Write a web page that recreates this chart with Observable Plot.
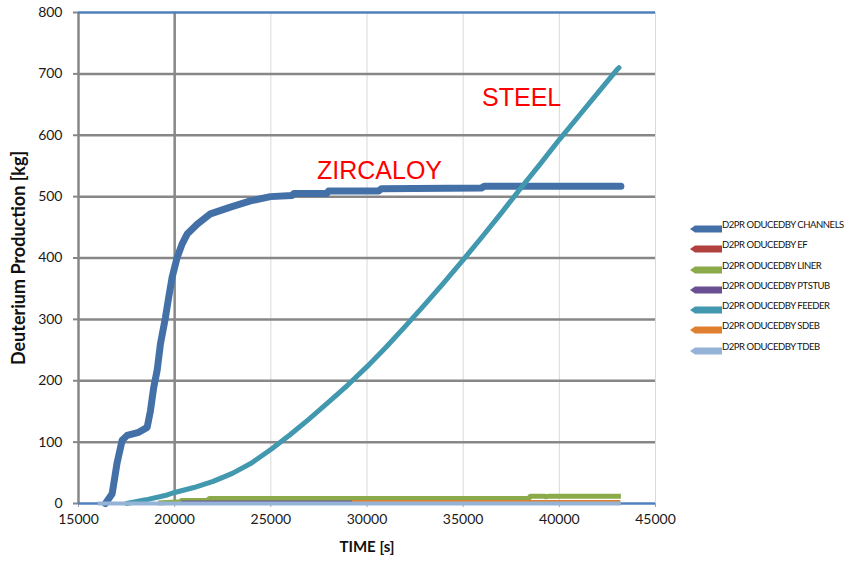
<!DOCTYPE html>
<html>
<head>
<meta charset="utf-8">
<script src="https://cdn.jsdelivr.net/npm/d3@7"></script>
<script src="https://cdn.jsdelivr.net/npm/@observablehq/plot@0.6"></script>
<style>
  html, body { margin: 0; padding: 0; background: #fff; }
  #wrap { position: relative; width: 850px; height: 563px; overflow: hidden; }
  #legend { position: absolute; left: 690px; top: 220px; font-family: Lato, "Liberation Sans", sans-serif; font-size: 9.5px; color: #111; }
  .li { position: absolute; left: 0; height: 14px; white-space: nowrap; }
  .li svg { position: absolute; left: 0; top: 4px; }
  .li span { position: absolute; left: 32px; top: -2px; letter-spacing: -0.45px; }
</style>
</head>
<body>
<div id="wrap"><div id="legend"></div></div>
<script>
// ---- data ----
const channelsT = [16400,16750,17000,17270,17530,18130,18570,18740,18910,19090,19260,19520,19690,19870,20130,20390,20650,21170,21860,22900,23940,24980,26100,26200,27900,28000,30600,30750,35950,36100,43200];
const channelsV = [0,16,65,103,111,116,124,151,189,217,260,303,336,369,401,423,439,455,472,483,493,500,502,505,505,509,509,513,514,517,517];

const efT = [17500,43200];
const efV = [0,0];

const linerT = [19150,20300,20350,21700,21800,38400,38500,39200,39300,39500,43200];
const linerV = [1,3,5,5,8,8,12,12,11,12,12];

const ptstubT = [20340,29220];
const ptstubV = [1.5,1.5];

const feederT = [17500,18500,19500,20000,21000,22000,23000,24000,25000,26000,27000,28000,29000,30000,31000,32000,33000,34000,35000,36000,37000,38000,39000,40000,41000,42000,43000,43100];
const feederV = [0,6,13,18,26,36,49,66,88,112,138,165,193,223,255,289,324,360,397,435,474,514,553,593,631,669,707,710];

const sdebT = [29220,43170];
const sdebV = [2.5,2.5];

const tdebT = [16000,43200];
const tdebV = [0,0];

const xTicks = [15000,20000,25000,30000,35000,40000,45000];
const yTicks = [0,100,200,300,400,500,600,700,800];

const legendLabels = ["D2PR ODUCEDBY CHANNELS","D2PR ODUCEDBY EF","D2PR ODUCEDBY LINER","D2PR ODUCEDBY PTSTUB","D2PR ODUCEDBY FEEDER","D2PR ODUCEDBY SDEB","D2PR ODUCEDBY TDEB"];
const seriesColors = ["#4470A8","#B0413E","#8BAA4A","#6A5092","#4198AF","#E07F2F","#95B3D7"];

const annoText = ["ZIRCALOY","STEEL"];
const annoT = [27400,35980];
const annoV = [542,661];

const xTitle = "TIME [s]";
const yTitle = "Deuterium Production [kg]";

// ---- build ----
const rows = (T, V) => T.map((t, i) => ({t, v: V[i]}));
const series = [
  rows(channelsT, channelsV), rows(efT, efV), rows(linerT, linerV), rows(ptstubT, ptstubV),
  rows(feederT, feederV), rows(sdebT, sdebV), rows(tdebT, tdebV)
];
const widths = [7, 3, 5, 4, 5, 4, 4];
const annos = annoText.map((s, i) => ({s, t: annoT[i], v: annoV[i]}));

const lineMarks = series.map((d, i) => Plot.line(d, {
  x: "t", y: "v", stroke: seriesColors[i], strokeWidth: widths[i],
  strokeLinejoin: "round", strokeLinecap: i === 0 || i === 4 ? "round" : "butt"
}));

const chart = Plot.plot({
  width: 850, height: 563,
  marginLeft: 78, marginRight: 195, marginTop: 12, marginBottom: 60,
  style: {fontFamily: "Lato, 'Liberation Sans', sans-serif", fontSize: "14px", color: "#1a1a1a", background: "transparent"},
  x: {domain: [15000, 45000], label: null},
  y: {domain: [0, 800], label: null},
  marks: [
    Plot.ruleX(xTicks.slice(2), {stroke: "#d9d9d9", strokeWidth: 1}),
    Plot.ruleY(yTicks.slice(1, -1), {stroke: "#878787", strokeWidth: 2.5}),
    Plot.ruleX(xTicks.slice(0, 2), {stroke: "#878787", strokeWidth: 2.5}),
    Plot.axisY({ticks: yTicks, tickSize: 5, tickPadding: 11, stroke: "#878787", strokeWidth: 2, tickFormat: d3.format("d"), label: null}),
    Plot.axisX({ticks: xTicks, tickSize: 4, tickPadding: 7, stroke: "#a0a0a0", strokeWidth: 1, tickFormat: d3.format("d"), label: null}),
    Plot.ruleY([800], {stroke: "#4F81BD", strokeWidth: 2.5}),
    Plot.ruleY([0], {stroke: "#4F81BD", strokeWidth: 2.5}),
    ...lineMarks,
    Plot.text(annos, {x: "t", y: "v", text: "s", textAnchor: "start", fill: "#ff0000", fontSize: 25, fontFamily: "'Liberation Sans', Arial, sans-serif"}),
    Plot.text([xTitle], {frameAnchor: "bottom", dy: 48, fontWeight: "bold", fontSize: 15, fill: "#111"}),
    Plot.text([yTitle], {frameAnchor: "left", dx: -59, rotate: -90, textAnchor: "middle", fontWeight: "bold", fontSize: 18, fill: "#111"})
  ]
});
document.getElementById("wrap").prepend(chart);

// legend
const legendY = [8, 28, 48.5, 69, 89, 109, 129.5];
const leg = document.getElementById("legend");
legendLabels.forEach((lab, i) => {
  const div = document.createElement("div");
  div.className = "li";
  div.style.top = (legendY[i] - 7) + "px";
  div.innerHTML = `<svg width="32" height="8"><polygon points="0,4 5,0.5 32,0.5 32,7.5 5,7.5" fill="${seriesColors[i]}"/></svg><span>${lab}</span>`;
  leg.appendChild(div);
});
</script>
</body>
</html>
